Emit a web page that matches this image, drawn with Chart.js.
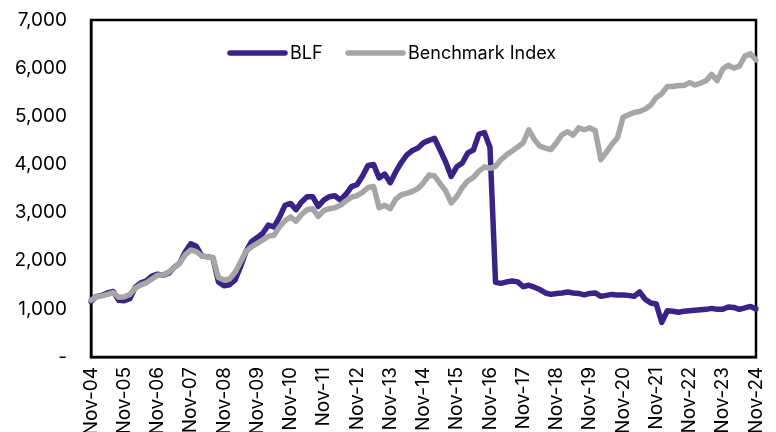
<!DOCTYPE html>
<html>
<head>
<meta charset="utf-8">
<script src="https://cdn.jsdelivr.net/npm/chart.js@4/dist/chart.umd.min.js"></script>
<style>
html,body{margin:0;padding:0;background:#fff;overflow:hidden;width:776px;height:432px;}
#wrap{position:absolute;left:0;top:0;width:776px;height:440px;}
</style>
</head>
<body>
<div id="wrap"><canvas id="c" width="776" height="440"></canvas></div>
<script>
// Tick labels shown on the x axis (every November)
const tickLabels = ['Nov-04','Nov-05','Nov-06','Nov-07','Nov-08','Nov-09','Nov-10','Nov-11','Nov-12','Nov-13','Nov-14','Nov-15','Nov-16','Nov-17','Nov-18','Nov-19','Nov-20','Nov-21','Nov-22','Nov-23','Nov-24'];
// Bi-monthly observation months within each year starting at November
const monthNames = ['Nov','Jan','Mar','May','Jul','Sep'];

// BLF values (bi-monthly, Nov-04 .. Nov-24)
const blf = [
 1150,1260,1280,1330,1360,1180,1170,1210,1450,1540,1580,1680,
 1720,1700,1740,1860,1950,2180,2350,2300,2100,2080,2060,1560,
 1480,1500,1600,1880,2200,2400,2480,2570,2740,2700,2900,3150,
 3190,3060,3220,3330,3330,3130,3260,3330,3350,3260,3380,3540,
 3580,3760,3980,4000,3720,3800,3620,3850,4040,4200,4290,4340,
 4450,4500,4540,4300,4050,3750,3950,4030,4240,4300,4630,4660,
 4350,1550,1530,1560,1580,1560,1460,1490,1450,1400,1330,1300,
 1320,1330,1350,1330,1320,1290,1320,1330,1260,1280,1300,1290,
 1290,1280,1260,1350,1200,1120,1100,720,960,950,930,950,
 960,970,980,990,1010,990,990,1040,1030,990,1020,1050,
 1000
];
// Benchmark Index values (bi-monthly, Nov-04 .. Nov-24)
const benchmark = [
 1180,1250,1270,1300,1340,1240,1250,1300,1430,1500,1540,1620,
 1700,1710,1760,1860,1950,2120,2220,2190,2100,2080,2060,1650,
 1600,1620,1760,1980,2200,2290,2360,2430,2510,2530,2700,2830,
 2910,2820,2960,3060,3080,2920,3040,3080,3100,3150,3240,3320,
 3350,3420,3520,3540,3100,3150,3080,3280,3370,3400,3440,3500,
 3620,3780,3760,3600,3450,3200,3330,3520,3660,3730,3860,3950,
 3920,3960,4100,4200,4280,4360,4450,4720,4520,4380,4340,4310,
 4450,4620,4680,4610,4760,4720,4760,4700,4100,4250,4420,4550,
 4980,5030,5080,5100,5150,5230,5390,5470,5620,5620,5640,5640,
 5700,5650,5690,5740,5870,5740,5980,6060,6000,6040,6250,6300,
 6170
];
const seriesNames = ['BLF','Benchmark Index'];
const seriesColors = ['#3A2386','#A6A6A6'];

// categories: one per bi-monthly observation
const categories = [];
for (let i = 0; i < blf.length; i++) {
  const yr = 4 + Math.floor(i / 6) + (i % 6 === 0 ? 0 : 1);
  categories.push(monthNames[i % 6] + '-' + String(yr).padStart(2, '0'));
}

const FONT = 'Inter, "Liberation Sans", Arial, sans-serif';

const frameAndLegend = {
  id: 'frameAndLegend',
  beforeDatasetsDraw(chart) {
    const {ctx, chartArea: a} = chart;
    ctx.save();
    ctx.strokeStyle = '#000';
    ctx.lineWidth = 2.5;
    ctx.strokeRect(a.left, a.top, a.right - a.left, a.bottom - a.top);
    ctx.restore();
  },
  afterDraw(chart) {
    const {ctx} = chart;
    const items = [
      {x1: 230, x2: 285, tx: 290},
      {x1: 348, x2: 403, tx: 408}
    ];
    ctx.save();
    ctx.font = '18px ' + FONT;
    ctx.textBaseline = 'middle';
    ctx.textAlign = 'left';
    items.forEach((it, k) => {
      ctx.beginPath();
      ctx.strokeStyle = seriesColors[k];
      ctx.lineWidth = 5.5;
      ctx.lineCap = 'round';
      ctx.moveTo(it.x1, 53);
      ctx.lineTo(it.x2, 53);
      ctx.stroke();
      ctx.fillStyle = '#000';
      ctx.fillText(seriesNames[k], it.tx, 54);
    });
    ctx.restore();
  }
};

new Chart(document.getElementById('c'), {
  type: 'line',
  data: {
    labels: categories,
    datasets: [
      {label: seriesNames[0], data: blf, borderColor: seriesColors[0], backgroundColor: seriesColors[0], order: 2},
      {label: seriesNames[1], data: benchmark, borderColor: seriesColors[1], backgroundColor: seriesColors[1], order: 1}
    ]
  },
  options: {
    responsive: false,
    devicePixelRatio: 1,
    animation: false,
    layout: {padding: {top: 20, right: 20, left: 0, bottom: 0}},
    elements: {
      line: {borderWidth: 5.5, tension: 0, borderCapStyle: 'round', borderJoinStyle: 'round'},
      point: {radius: 0, hoverRadius: 0}
    },
    plugins: {legend: {display: false}, tooltip: {enabled: false}},
    scales: {
      x: {
        type: 'category',
        offset: false,
        grid: {display: false, drawTicks: false},
        border: {display: true, color: '#000', width: 2.5},
        ticks: {
          autoSkip: false,
          minRotation: 90,
          maxRotation: 90,
          padding: 10,
          color: '#000',
          font: {family: FONT, size: 19},
          callback: function(v, i) { return i % 6 === 0 ? tickLabels[i / 6] : ''; }
        },
        afterFit(scale) {
          scale.height = 440 - 357;
          scale.paddingLeft = 0; scale.paddingRight = 0;
          scale.paddingTop = 0; scale.paddingBottom = 0;
        }
      },
      y: {
        min: 0, max: 7000,
        grid: {display: false, drawTicks: false},
        border: {display: true, color: '#000', width: 2.5},
        ticks: {
          stepSize: 1000,
          padding: 24,
          color: '#000',
          font: {family: FONT, size: 19},
          callback: function(v) { return v === 0 ? '-' : v.toLocaleString('en-US'); }
        },
        afterFit(scale) {
          scale.width = 91;
          scale.paddingTop = 0; scale.paddingBottom = 0;
          scale.paddingLeft = 0; scale.paddingRight = 0;
        }
      }
    }
  },
  plugins: [frameAndLegend]
});
</script>
</body>
</html>
